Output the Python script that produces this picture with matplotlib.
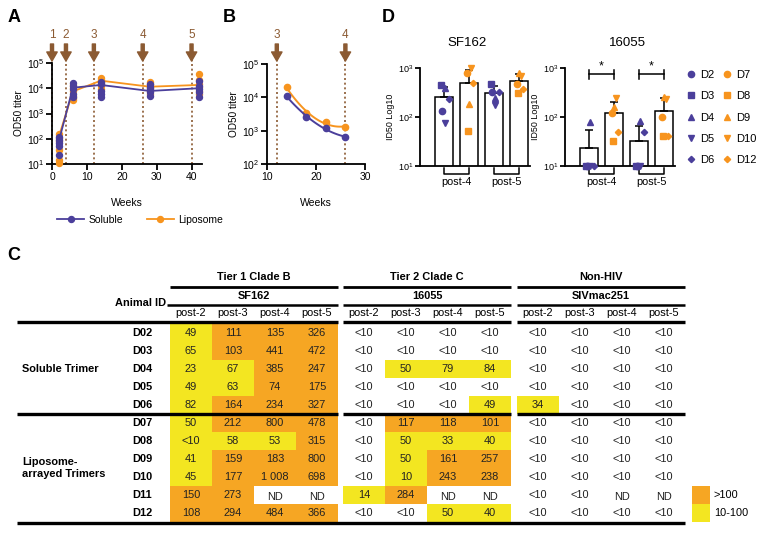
import numpy as np
import matplotlib
matplotlib.use('Agg')
import matplotlib.pyplot as plt
from matplotlib.patches import Rectangle
from matplotlib.lines import Line2D
from matplotlib.ticker import LogLocator, LogFormatterMathtext, NullLocator

plt.rcParams['font.family'] = ['Liberation Sans', 'DejaVu Sans']
plt.rcParams['mathtext.default'] = 'regular'

PURPLE = '#4B3F9B'
ORANGE = '#F7941E'
BROWN = '#8B5A32'
CELL_O = '#F6A623'
CELL_Y = '#F3E621'

# ---------------- Panel A data ----------------
weeks_a = [2, 6, 14, 28, 42]
vacc_a = [0, 4, 12, 26, 40]
vacc_a_labels = ['1', '2', '3', '4', '5']
sol_pts = [[117, 91, 71, 52, 23],
           [16000, 12000, 9000, 6000, 4500],
           [18000, 14500, 7800, 5700, 4700],
           [14500, 11000, 9000, 7000, 5000],
           [19500, 12300, 9100, 6800, 4700]]
lip_pts = [[160, 110, 80, 36, 14, 11],
           [14000, 10000, 8000, 5000, 4000, 3500],
           [25000, 21000, 18000, 15000, 12000, 9000],
           [18000, 15000, 12000, 10000, 8000, 6000],
           [36000, 22000, 15000, 11000, 8000, 6000]]
sol_mean = [85, 10500, 13500, 7800, 10000]
lip_mean = [125, 7500, 20000, 11500, 13500]

# ---------------- Panel B data ----------------
weeks_b = [14, 18, 22, 26]
vacc_b = [12, 26]
vacc_b_labels = ['3', '4']
sol_b = [11000, 2550, 1200, 640]
lip_b = [20000, 3500, 1770, 1310]

# ---------------- Panel C data ----------------
animals = ['D02', 'D03', 'D04', 'D05', 'D06', 'D07', 'D08', 'D09', 'D10', 'D11', 'D12']
post_labels = ['post-2', 'post-3', 'post-4', 'post-5']
tier_labels = ['Tier 1 Clade B', 'Tier 2 Clade C', 'Non-HIV']
strain_labels = ['SF162', '16055', 'SIVmac251']
sf162_vals = [['49', '111', '135', '326'],
              ['65', '103', '441', '472'],
              ['23', '67', '385', '247'],
              ['49', '63', '74', '175'],
              ['82', '164', '234', '327'],
              ['50', '212', '800', '478'],
              ['<10', '58', '53', '315'],
              ['41', '159', '183', '800'],
              ['45', '177', '1 008', '698'],
              ['150', '273', 'ND', 'ND'],
              ['108', '294', '484', '366']]
sf162_fill = ['YOOO', 'YOOO', 'YYOO', 'YYOO', 'YOOO', 'YOOO', 'YYYO', 'YOOO', 'YOOO', 'OO--', 'OOOO']
c16055_vals = [['<10', '<10', '<10', '<10'],
               ['<10', '<10', '<10', '<10'],
               ['<10', '50', '79', '84'],
               ['<10', '<10', '<10', '<10'],
               ['<10', '<10', '<10', '49'],
               ['<10', '117', '118', '101'],
               ['<10', '50', '33', '40'],
               ['<10', '50', '161', '257'],
               ['<10', '10', '243', '238'],
               ['14', '284', 'ND', 'ND'],
               ['<10', '<10', '50', '40']]
c16055_fill = ['----', '----', '-YYY', '----', '---Y', '-OOO', '-YYY', '-YOO', '-YOO', 'YO--', '--YY']
siv_vals = [['<10', '<10', '<10', '<10']] * 4 + [['34', '<10', '<10', '<10']] + \
           [['<10', '<10', '<10', '<10']] * 4 + [['<10', '<10', 'ND', 'ND']] + [['<10', '<10', '<10', '<10']]
siv_fill = ['----'] * 4 + ['Y---'] + ['----'] * 6
legend_c = [('>100', 'O'), ('10-100', 'Y')]

# ---------------- Panel D data (from table, <10 plotted as 10) ----------------
d_sol_ids = ['D2', 'D3', 'D4', 'D5', 'D6']
d_lip_ids = ['D7', 'D8', 'D9', 'D10', 'D12']
d_markers = ['o', 's', '^', 'v', 'D']
d_msize = [4.5, 4.5, 4.5, 4.5, 3.2]
jit_sol = [-0.1, -0.12, 0.05, 0.03, 0.2]
jit_lip = [-0.1, -0.05, 0.0, 0.08, 0.15]
sol_rows = [0, 1, 2, 3, 4]
lip_rows = [5, 6, 7, 8, 10]


def num(s):
    return 10.0 if s.startswith('<') else float(s.replace(' ', ''))


fig = plt.figure(figsize=(7.62, 5.33), dpi=100)
W, H = 762.0, 533.0


def px_axes(l, t, r, b):
    return fig.add_axes([l / W, 1 - b / H, (r - l) / W, (b - t) / H])


def style_log(ax, fs):
    for s in ['top', 'right']:
        ax.spines[s].set_visible(False)
    for s in ['left', 'bottom']:
        ax.spines[s].set_linewidth(1.3)
    ax.yaxis.set_major_locator(LogLocator(base=10, numticks=10))
    ax.yaxis.set_major_formatter(LogFormatterMathtext())
    ax.yaxis.set_minor_locator(NullLocator())
    ax.tick_params(width=1.3, length=4, labelsize=fs, pad=1.5)


def vacc_marks(ax, xs, labels, ax_top_px, ax_bot_px):
    h = ax_bot_px - ax_top_px
    tr = ax.get_xaxis_transform()
    for v, lab in zip(xs, labels):
        ax.plot([v, v], [0, (ax_bot_px - 60) / h], transform=tr, color=BROWN,
                ls=(0, (1.2, 1.6)), lw=1.2, clip_on=False, zorder=1)
        ax.annotate('', xy=(v, (ax_bot_px - 61) / h), xycoords=tr,
                    xytext=(v, (ax_bot_px - 44) / h), textcoords=tr,
                    arrowprops=dict(facecolor=BROWN, edgecolor=BROWN, width=2.2,
                                    headwidth=7.5, headlength=6.5, shrink=0))
        ax.text(v, (ax_bot_px - 35) / h, lab, transform=tr, ha='center', va='center',
                color=BROWN, fontsize=8.5)


# ---------------- Panel A ----------------
axA = px_axes(52, 63, 202, 164)
axA.set_yscale('log')
axA.set_ylim(10, 1e5)
axA.set_xlim(0, 43)
axA.set_xticks([0, 10, 20, 30, 40])
style_log(axA, 7.5)
vacc_marks(axA, vacc_a, vacc_a_labels, 63, 164)
axA.plot(weeks_a, lip_mean, color=ORANGE, lw=1.3, zorder=3)
for w, pts in zip(weeks_a, lip_pts):
    axA.plot([w] * len(pts), pts, 'o', color=ORANGE, ms=4.3, zorder=3, clip_on=False)
axA.plot(weeks_a, sol_mean, color=PURPLE, lw=1.3, zorder=4)
for w, pts in zip(weeks_a, sol_pts):
    axA.plot([w] * len(pts), pts, 'o', color=PURPLE, ms=4.3, zorder=4, clip_on=False)
axA.set_ylabel('OD50 titer', fontsize=7.2, labelpad=2)
axA.set_xlabel('Weeks', fontsize=7.5, labelpad=12)
hA = [Line2D([], [], color=PURPLE, marker='o', ms=4.3, lw=1.3),
      Line2D([], [], color=ORANGE, marker='o', ms=4.3, lw=1.3)]
fig.legend(hA, ['Soluble', 'Liposome'], loc='center left',
           bbox_to_anchor=(57 / W, 1 - 220 / H), ncol=2, frameon=False,
           fontsize=7.5, handlelength=2.6, handletextpad=0.4, columnspacing=2.3,
           borderpad=0, borderaxespad=0)

# ---------------- Panel B ----------------
axB = px_axes(267, 64, 365, 164)
axB.set_yscale('log')
axB.set_ylim(100, 1e5)
axB.set_xlim(10, 30)
axB.set_xticks([10, 20, 30])
style_log(axB, 7.5)
vacc_marks(axB, vacc_b, vacc_b_labels, 64, 164)
tt = np.linspace(weeks_b[0], weeks_b[-1], 100)
for vals, col, z in [(lip_b, ORANGE, 3), (sol_b, PURPLE, 4)]:
    coef = np.polyfit(weeks_b, np.log10(vals), 2)
    axB.plot(tt, 10 ** np.polyval(coef, tt), color=col, lw=1.4, zorder=z)
    axB.plot(weeks_b, vals, 'o', color=col, ms=4.5, zorder=z)
axB.set_ylabel('OD50 titer', fontsize=7.2, labelpad=2)
axB.set_xlabel('Weeks', fontsize=7.5, labelpad=12)

# ---------------- Panel D ----------------
strains_d = [('SF162', sf162_vals, 420, 467), ('16055', c16055_vals, 565, 627)]
bar_x = [0, 1, 2, 3]
for name, vals, left, title_x in strains_d:
    ax = px_axes(left, 68, left + 110, 166)
    ax.set_yscale('log')
    ax.set_ylim(10, 1000)
    ax.set_xlim(-0.96, 3.44)
    style_log(ax, 6.5)
    ax.set_xticks([])
    ax.tick_params(axis='y', length=3.5)
    ax.set_ylabel('ID50 Log10', fontsize=6.4, labelpad=2)
    fig.text(title_x / W, 1 - 43 / H, name, ha='center', va='center', fontsize=9.5)
    for k, post in enumerate([2, 3]):
        for j, (rows, jit, col) in enumerate([(sol_rows, jit_sol, PURPLE), (lip_rows, jit_lip, ORANGE)]):
            xi = bar_x[2 * k + j]
            v = np.array([num(vals[r][post]) for r in rows])
            m = v.mean()
            sd = v.std(ddof=1)
            ax.bar(xi, m, width=0.72, bottom=0, color='white', edgecolor='black', lw=1.1, zorder=2)
            ax.errorbar(xi, m, yerr=[[0], [sd]], color='black', lw=1.1, capsize=3.2,
                        capthick=1.1, zorder=3)
            for vv, dx, mk, ms in zip(v, jit, d_markers, d_msize):
                ax.plot(xi + dx, vv, mk, color=col, ms=ms, zorder=4, clip_on=False)
    tr = ax.get_xaxis_transform()
    for k, lab in enumerate(['post-4', 'post-5']):
        x0, x1 = bar_x[2 * k], bar_x[2 * k + 1]
        ax.plot([x0, x0, x1, x1], [-2 / 98, -7.5 / 98, -7.5 / 98, -2 / 98], transform=tr,
                color='black', lw=1.1, clip_on=False)
        ax.text((x0 + x1) / 2, -16 / 98, lab, transform=tr, ha='center', va='center', fontsize=7.8)
    if name == '16055':
        for k in range(2):
            x0, x1 = bar_x[2 * k], bar_x[2 * k + 1]
            yb = 92 / 98
            ax.plot([x0, x1], [yb, yb], transform=tr, color='black', lw=1.1, clip_on=False)
            for xx in (x0, x1):
                ax.plot([xx, xx], [yb - 4.5 / 98, yb + 4.5 / 98], transform=tr, color='black',
                        lw=1.1, clip_on=False)
            ax.text((x0 + x1) / 2, 100 / 98, '*', transform=tr, ha='center', va='center', fontsize=9)

hD = []
labD = []
for ids, col in [(d_sol_ids, PURPLE), (d_lip_ids, ORANGE)]:
    for i, mk, ms in zip(ids, d_markers, d_msize):
        hD.append(Line2D([], [], ls='none', marker=mk, color=col, ms=ms))
        labD.append(i)
fig.legend(hD, labD, loc='upper left', bbox_to_anchor=(686 / W, 1 - 70 / H), ncol=2,
           frameon=False, fontsize=8, handlelength=0.9, handletextpad=0.35,
           columnspacing=0.75, labelspacing=1.02, borderpad=0, borderaxespad=0)

# ---------------- Panel C (table) + panel letters ----------------
axT = fig.add_axes([0, 0, 1, 1], zorder=-1)
axT.set_xlim(0, W)
axT.set_ylim(H, 0)
axT.axis('off')

X0 = [170, 343, 517]
CW = 42
ROW_TOP = 324
RH = 18
FS = 7.9
fill_col = {'O': CELL_O, 'Y': CELL_Y}
groups = [(sf162_vals, sf162_fill), (c16055_vals, c16055_fill), (siv_vals, siv_fill)]
for g, (vals, fills) in enumerate(groups):
    gx = X0[g]
    gw = 4 * CW
    axT.text(gx + gw / 2, 277, tier_labels[g], ha='center', va='center', fontsize=FS, fontweight='bold')
    axT.plot([gx, gx + gw], [287, 287], color='black', lw=2.0, solid_capstyle='butt')
    axT.text(gx + gw / 2, 296, strain_labels[g], ha='center', va='center', fontsize=FS, fontweight='bold')
    axT.plot([gx - (3 if g == 0 else 0), gx + gw], [304.5, 304.5], color='black', lw=1.8, solid_capstyle='butt')
    for c in range(4):
        axT.text(gx + CW * c + CW / 2, 313, post_labels[c], ha='center', va='center', fontsize=FS)
    lx0 = 17 if g == 0 else gx
    for yl in (322, ROW_TOP + 5 * RH):
        axT.plot([lx0, gx + gw], [yl, yl], color='black', lw=2.4, solid_capstyle='butt', zorder=5)
    for r in range(len(animals)):
        y = ROW_TOP + r * RH
        for c in range(4):
            x = gx + c * CW
            f = fills[r][c]
            if f in fill_col:
                axT.add_patch(Rectangle((x, y), CW, RH, facecolor=fill_col[f], edgecolor='none', zorder=1))
            s = vals[r][c]
            axT.text(x + CW / 2, y + RH / 2 + (1.5 if s == 'ND' else 0), s, ha='center', va='center',
                     fontsize=FS, color='#222222', zorder=3)
axT.plot([17, X0[2] + 4 * CW], [ROW_TOP + 11 * RH + 1, ROW_TOP + 11 * RH + 1], color='black', lw=2.4,
         solid_capstyle='butt', zorder=5)
axT.text(166, 303, 'Animal ID', ha='right', va='center', fontsize=FS, fontweight='bold')
for r, a in enumerate(animals):
    axT.text(142, ROW_TOP + r * RH + RH / 2, a, ha='center', va='center', fontsize=FS, fontweight='bold')
axT.text(22, ROW_TOP + 2.5 * RH, 'Soluble Trimer', ha='left', va='center', fontsize=FS, fontweight='bold')
axT.text(22, ROW_TOP + 8 * RH, 'Liposome-\narrayed Trimers', ha='left', va='center', fontsize=FS,
         fontweight='bold', linespacing=1.2)
for k, (lab, code) in enumerate(legend_c):
    y = ROW_TOP + (9 + k) * RH
    axT.add_patch(Rectangle((692, y), 18, RH, facecolor=fill_col[code], edgecolor='none'))
    axT.text(714, y + RH / 2, lab, ha='left', va='center', fontsize=FS)

for lab, x, y in [('A', 14, 18), ('B', 229, 18), ('D', 388, 18), ('C', 14, 255)]:
    axT.text(x, y, lab, ha='center', va='center', fontsize=13, fontweight='bold')

fig.savefig('out.png', dpi=100)
